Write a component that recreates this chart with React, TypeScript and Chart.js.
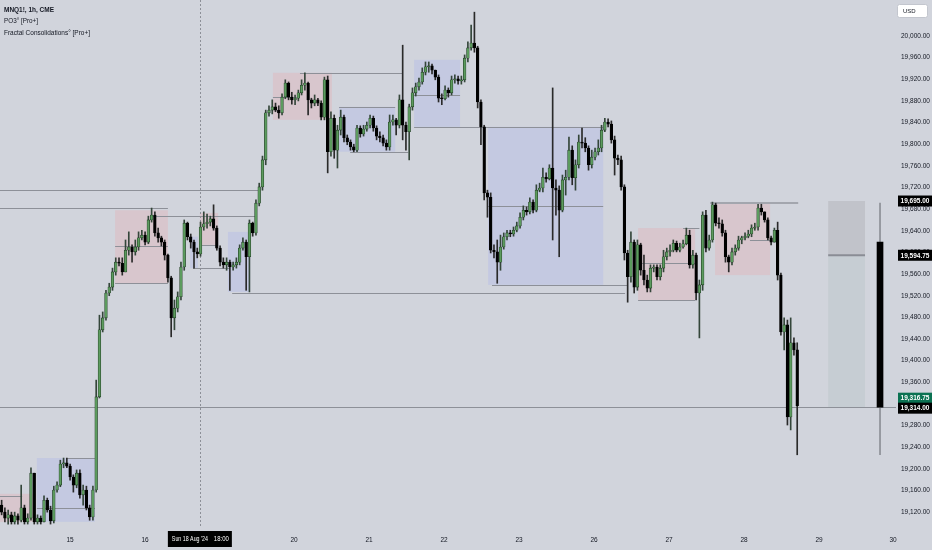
import React, { useEffect, useRef } from 'react';
import { Chart, registerables } from 'chart.js';
Chart.register(...registerables);

// ---------- data ----------
const OPEN0 = 19133;
const closes = [
  19120, 19109, 19115, 19102, 19113, 19105, 19128, 19102, 19109, 19192,
  19102, 19109, 19102, 19142, 19124, 19104, 19161, 19170, 19209, 19211,
  19205, 19185, 19170, 19192, 19152, 19161, 19128, 19111, 19161, 19333,
  19457, 19479, 19525, 19536, 19564, 19582, 19580, 19564, 19604, 19610,
  19601, 19610, 19627, 19632, 19619, 19660, 19669, 19636, 19627, 19619,
  19595, 19553, 19479, 19497, 19518, 19573, 19654, 19629, 19619, 19601,
  19597, 19647, 19653, 19656, 19662, 19645, 19608, 19582, 19577, 19582,
  19573, 19577, 19582, 19608, 19619, 19592, 19654, 19636, 19691, 19721,
  19771, 19858, 19863, 19869, 19863, 19858, 19887, 19913, 19887, 19882,
  19885, 19895, 19909, 19913, 19882, 19876, 19882, 19876, 19850, 19919,
  19786, 19848, 19789, 19826, 19850, 19812, 19804, 19795, 19789, 19830,
  19819, 19828, 19835, 19848, 19830, 19815, 19812, 19802, 19795, 19841,
  19845, 19835, 19882, 19835, 19823, 19869, 19895, 19906, 19915, 19933,
  19943, 19945, 19937, 19924, 19885, 19884, 19900, 19895, 19919, 19921,
  19917, 19919, 19959, 19978, 19987, 19978, 19878, 19832, 19710, 19702,
  19604, 19601, 19582, 19610, 19629, 19636, 19634, 19641, 19649, 19665,
  19678, 19675, 19693, 19678, 19715, 19719, 19739, 19736, 19756, 19719,
  19715, 19678, 19734, 19739, 19789, 19738, 19762, 19804, 19802, 19793,
  19762, 19776, 19786, 19793, 19826, 19841, 19837, 19808, 19774, 19771,
  19721, 19599, 19555, 19619, 19536, 19614, 19567, 19549, 19534, 19571,
  19573, 19555, 19571, 19592, 19601, 19604, 19617, 19604, 19610, 19616,
  19632, 19577, 19595, 19525, 19540, 19669, 19608, 19623, 19688, 19654,
  19653, 19636, 19592, 19582, 19601, 19608, 19623, 19627, 19630, 19634,
  19645, 19647, 19682, 19675, 19660, 19627, 19619, 19641, 19558, 19453,
  19466, 19296, 19433, 19420, 19316.75,
];
const highs = [
  19142, 19128, 19124, 19120, 19120, 19117, 19170, 19133, 19117, 19202,
  19192, 19115, 19113, 19150, 19146, 19131, 19168, 19176, 19216, 19220,
  19220, 19209, 19189, 19198, 19198, 19170, 19168, 19133, 19168, 19364,
  19484, 19490, 19530, 19543, 19571, 19590, 19590, 19590, 19623, 19638,
  19614, 19623, 19638, 19641, 19638, 19667, 19682, 19675, 19645, 19630,
  19623, 19597, 19556, 19512, 19527, 19582, 19660, 19656, 19634, 19623,
  19608, 19656, 19675, 19671, 19667, 19688, 19649, 19612, 19590, 19590,
  19586, 19582, 19590, 19614, 19627, 19623, 19660, 19656, 19697, 19728,
  19778, 19863, 19871, 19882, 19876, 19871, 19893, 19919, 19915, 19896,
  19891, 19900, 19919, 19932, 19915, 19885, 19891, 19885, 19880, 19924,
  19926, 19860, 19854, 19835, 19863, 19854, 19817, 19808, 19800, 19835,
  19834, 19835, 19841, 19854, 19852, 19834, 19823, 19817, 19808, 19854,
  19854, 19848, 19891, 19983, 19841, 19874, 19904, 19913, 19922, 19941,
  19952, 19952, 19948, 19937, 19928, 19893, 19908, 19904, 19926, 19928,
  19926, 19926, 19965, 19989, 20020, 20044, 19981, 19882, 19835, 19715,
  19710, 19614, 19623, 19632, 19636, 19641, 19641, 19647, 19656, 19673,
  19686, 19684, 19701, 19697, 19725, 19728, 19756, 19747, 19762, 19904,
  19734, 19723, 19743, 19752, 19813, 19797, 19771, 19817, 19830, 19812,
  19797, 19789, 19793, 19808, 19835, 19848, 19847, 19843, 19815, 19780,
  19778, 19725, 19604, 19638, 19623, 19623, 19617, 19595, 19558, 19577,
  19577, 19577, 19577, 19604, 19608, 19614, 19623, 19621, 19617, 19623,
  19645, 19641, 19604, 19599, 19549, 19675, 19678, 19632, 19693, 19691,
  19664, 19660, 19641, 19595, 19608, 19614, 19630, 19630, 19636, 19641,
  19651, 19654, 19689, 19689, 19675, 19664, 19630, 19645, 19656, 19562,
  19479, 19475, 19479, 19442, 19433,
];
const lows = [
  19115, 19102, 19098, 19098, 19098, 19098, 19102, 19098, 19098, 19105,
  19098, 19098, 19098, 19102, 19120, 19098, 19100, 19157, 19167, 19202,
  19202, 19179, 19157, 19165, 19146, 19133, 19124, 19105, 19105, 19157,
  19331, 19453, 19475, 19520, 19530, 19558, 19575, 19558, 19564, 19595,
  19582, 19595, 19604, 19623, 19614, 19616, 19656, 19630, 19619, 19612,
  19586, 19545, 19444, 19457, 19490, 19512, 19567, 19623, 19608, 19571,
  19590, 19593, 19641, 19645, 19649, 19641, 19604, 19575, 19571, 19567,
  19530, 19567, 19571, 19577, 19604, 19530, 19527, 19630, 19632, 19686,
  19715, 19762, 19852, 19856, 19860, 19848, 19854, 19884, 19882, 19874,
  19873, 19880, 19891, 19900, 19854, 19867, 19871, 19871, 19845, 19845,
  19747, 19778, 19774, 19756, 19817, 19804, 19799, 19789, 19786, 19786,
  19813, 19815, 19824, 19830, 19824, 19808, 19804, 19797, 19789, 19789,
  19835, 19817, 19830, 19808, 19789, 19771, 19863, 19889, 19900, 19911,
  19928, 19933, 19930, 19919, 19878, 19873, 19882, 19887, 19891, 19913,
  19911, 19911, 19915, 19952, 19974, 19970, 19867, 19799, 19697, 19665,
  19599, 19590, 19543, 19567, 19606, 19623, 19629, 19630, 19638, 19645,
  19660, 19669, 19671, 19673, 19675, 19712, 19712, 19730, 19734, 19623,
  19669, 19592, 19675, 19706, 19734, 19725, 19715, 19756, 19793, 19786,
  19752, 19756, 19771, 19780, 19786, 19823, 19832, 19802, 19743, 19762,
  19715, 19586, 19508, 19545, 19525, 19530, 19558, 19540, 19527, 19527,
  19564, 19549, 19549, 19564, 19586, 19593, 19601, 19601, 19601, 19608,
  19614, 19571, 19571, 19512, 19442, 19530, 19601, 19604, 19619, 19649,
  19645, 19630, 19582, 19564, 19577, 19595, 19604, 19616, 19623, 19627,
  19629, 19641, 19641, 19669, 19656, 19623, 19614, 19619, 19549, 19447,
  19420, 19281, 19272, 19410, 19226,
];

// x axis (candle index positions of the day labels)
const dayTickIdx = [20.97, 43.98, 89.7, 112.7, 135.7, 158.7, 181.7, 204.7, 227.7, 250.7, 273.4];
const dayTickLabels = ['15', '16', '20', '21', '22', '23', '26', '27', '28', '29', '30'];
const priceTicks = [19120, 19160, 19200, 19240, 19280, 19320, 19360, 19400, 19440, 19480, 19520,
  19560, 19600, 19640, 19680, 19720, 19760, 19800, 19840, 19880, 19920, 19960, 20000];

// consolidation zones: [fromIdx, toIdx, top, bottom, kind]
const zones: [number, number, number, number, string][] = [
  [-0.5, 10.5, 19154, 19102, 'p'],
  [10.8, 28.6, 19220, 19102, 'b'],
  [34.8, 51.0, 19678, 19543, 'p'],
  [57.8, 60.2, 19629, 19571, 'b'],
  [60.8, 66.4, 19673, 19614, 'p'],
  [69.4, 76.2, 19638, 19527, 'b'],
  [83.2, 101.3, 19932, 19845, 'p'],
  [103.5, 120.7, 19869, 19786, 'b'],
  [126.5, 140.6, 19956, 19832, 'b'],
  [149.2, 184.5, 19832, 19540, 'b'],
  [195.2, 212.7, 19645, 19512, 'p'],
  [218.8, 235.7, 19691, 19558, 'p'],
];
// levels: [fromIdx, toIdx, price, lineWidth]
const levels: [number, number, number, number][] = [
  [-0.5, 78.6, 19715, 1],
  [-0.5, 51.0, 19682, 1],
  [45.5, 78.3, 19667, 1],
  [-0.5, 6.3, 19150, 1],
  [20.0, 28.6, 19220, 1],
  [10.8, 28.6, 19128, 1],
  [34.8, 51.0, 19612, 1],
  [34.8, 51.0, 19543, 1],
  [60.8, 66.4, 19614, 1],
  [58.7, 70.1, 19571, 1],
  [70.7, 191.2, 19525, 1],
  [83.2, 91.5, 19887, 1],
  [91.5, 122.8, 19932, 1],
  [103.5, 120.7, 19869, 1],
  [106.9, 124.7, 19786, 1],
  [126.5, 140.6, 19891, 1],
  [126.5, 184.5, 19832, 1],
  [149.2, 184.5, 19686, 1],
  [150.4, 191.8, 19540, 1],
  [195.2, 212.7, 19580, 1],
  [195.2, 212.7, 19512, 1],
  [209.0, 214.0, 19645, 1],
  [229.5, 235.7, 19623, 1],
  [217.3, 244.3, 19691, 2],
  [-0.5, 274.3, 19314, 1],
];
// PO3 projection
const po3Idx = 269.4;
const po3From = 253.5;
const po3To = 264.8;
const po3High = 19695;
const po3Mid = 19594.75;
const po3Low = 19314;
const po3Candle = { open: 19619, close: 19314, high: 19691, low: 19226 };
const lastPrice = 19316.75;
const crosshairIdx = 60.8;

// ---------- styles ----------
const BG = '#d1d4dc';
const PINK = '#d8c6cd';
const BLUE = '#c4c9e1';
const UP = '#5c9b5e';
const UP_BORDER = '#1f3a22';
const DOWN = '#000000';
const LINE = '#8d9098';
const TEXT = '#131722';
const FONT = '"Liberation Sans", Arial, sans-serif';

const fmt = (v: number) => v.toLocaleString('en-US', { minimumFractionDigits: 2, maximumFractionDigits: 2 });

const overlay = {
  id: 'overlay',
  beforeDraw(chart: any) {
    const { ctx, width, height } = chart;
    ctx.save();
    ctx.fillStyle = BG;
    ctx.fillRect(0, 0, width, height);
    ctx.restore();
  },
  beforeDatasetsDraw(chart: any) {
    const { ctx, chartArea: a, scales } = chart;
    const x = scales.x, y = scales.y;
    ctx.save();
    ctx.beginPath();
    ctx.rect(a.left, a.top, a.right - a.left, a.bottom - a.top);
    ctx.clip();
    zones.forEach(([f, t, top, bot, k]) => {
      const x0 = x.getPixelForValue(f), x1 = x.getPixelForValue(t);
      const y0 = y.getPixelForValue(top), y1 = y.getPixelForValue(bot);
      ctx.fillStyle = k === 'p' ? PINK : BLUE;
      ctx.fillRect(x0, y0, x1 - x0, y1 - y0);
    });
    // PO3 boxes
    {
      const x0 = x.getPixelForValue(po3From), x1 = x.getPixelForValue(po3To);
      const yH = y.getPixelForValue(po3High), yM = y.getPixelForValue(po3Mid), yL = y.getPixelForValue(po3Low);
      ctx.fillStyle = '#c1c3ca';
      ctx.fillRect(x0, yH, x1 - x0, yM - yH);
      ctx.fillStyle = '#c6cdd3';
      ctx.fillRect(x0, yM, x1 - x0, yL - yM);
      ctx.strokeStyle = '#8a8d95';
      ctx.lineWidth = 2;
      ctx.beginPath();
      ctx.moveTo(x0, yM);
      ctx.lineTo(x1, yM);
      ctx.stroke();
    }
    levels.forEach(([f, t, p, w]) => {
      const x0 = x.getPixelForValue(f), x1 = x.getPixelForValue(t);
      const yy = Math.round(y.getPixelForValue(p)) + (w === 1 ? 0.5 : 0);
      ctx.strokeStyle = w === 2 ? '#a3a6ae' : LINE;
      ctx.lineWidth = w;
      ctx.beginPath();
      ctx.moveTo(x0, yy);
      ctx.lineTo(x1, yy);
      ctx.stroke();
    });
    // crosshair
    const cx = Math.round(x.getPixelForValue(crosshairIdx)) + 0.5;
    ctx.strokeStyle = '#8c8f97';
    ctx.lineWidth = 1;
    ctx.setLineDash([2, 2]);
    ctx.beginPath();
    ctx.moveTo(cx, a.top);
    ctx.lineTo(cx, a.bottom);
    ctx.stroke();
    ctx.restore();
  },
  afterDraw(chart: any) {
    const { ctx, scales } = chart;
    const x = scales.x, y = scales.y;
    ctx.save();
    // legend text
    ctx.fillStyle = TEXT;
    ctx.textBaseline = 'middle';
    ctx.textAlign = 'left';
    ctx.font = `bold 6.5px ${FONT}`;
    ctx.fillText('MNQ1!, 1h, CME', 4, 10, 50);
    ctx.font = `6.5px ${FONT}`;
    ctx.fillText('PO3° [Pro+]', 4, 21, 34);
    ctx.fillText('Fractal Consolidations° [Pro+]', 4, 33, 86);

    // USD box
    ctx.fillStyle = '#ffffff';
    ctx.strokeStyle = '#c3c6ce';
    ctx.lineWidth = 1;
    ctx.beginPath();
    ctx.roundRect(897.5, 4.5, 30, 13, 2);
    ctx.fill();
    ctx.stroke();
    ctx.fillStyle = TEXT;
    ctx.font = `6px ${FONT}`;
    ctx.fillText('USD', 903, 11);

    // price labels on axis
    const tag = (p: number, bg: string, cy?: number) => {
      const yy = cy ?? y.getPixelForValue(p);
      ctx.fillStyle = bg;
      ctx.fillRect(898, yy - 5.5, 34, 11);
      ctx.fillStyle = '#ffffff';
      ctx.font = `bold 6.5px ${FONT}`;
      ctx.textAlign = 'center';
      ctx.fillText(fmt(p), 915, yy + 0.5, 31);
      ctx.textAlign = 'left';
    };
    tag(po3High, '#000000');
    tag(po3Mid, '#000000');
    tag(lastPrice, '#0b7252', y.getPixelForValue(lastPrice) - 7.5);
    tag(po3Low, '#000000', y.getPixelForValue(po3Low) + 1);

    // crosshair time label
    const cx = x.getPixelForValue(crosshairIdx);
    ctx.fillStyle = '#000000';
    ctx.fillRect(cx - 32, 531, 64, 16);
    ctx.fillStyle = '#ffffff';
    ctx.font = `6.5px ${FONT}`;
    ctx.textAlign = 'left';
    ctx.fillText("Sun 18 Aug '24", cx - 28, 539.5, 36);
    ctx.textAlign = 'right';
    ctx.fillText('18:00', cx + 29, 539.5, 15);
    ctx.restore();
  },
};

const App = () => {
  const ref = useRef<HTMLCanvasElement>(null);
  useEffect(() => {
    document.body.style.margin = '0';
    document.body.style.background = BG;
    const canvas = ref.current;
    if (!canvas) return;
    const opens = closes.map((_, i) => (i === 0 ? OPEN0 : closes[i - 1]));
    const up = closes.map((c, i) => c >= opens[i]);
    const bodies = closes.map((c, i) => ({ x: i, y: [opens[i], c] }));
    const wicks = closes.map((_, i) => ({ x: i, y: [lows[i], highs[i]] }));

    const chart = new Chart(canvas, {
      type: 'bar',
      data: {
        datasets: [
          {
            label: 'bodies',
            data: bodies as any,
            backgroundColor: up.map((u) => (u ? UP : DOWN)),
            borderColor: up.map((u) => (u ? UP_BORDER : DOWN)),
            borderWidth: 0.6,
            borderSkipped: false,
            barThickness: 2.7,
            minBarLength: 1,
            grouped: false,
            order: 1,
          },
          {
            label: 'wicks',
            data: wicks as any,
            backgroundColor: up.map((u) => (u ? '#34463a' : '#2a2a2a')),
            borderWidth: 0,
            barThickness: 1,
            grouped: false,
            order: 2,
          },
          {
            label: 'po3Body',
            data: [{ x: po3Idx, y: [po3Candle.open, po3Candle.close] }] as any,
            backgroundColor: '#000000',
            borderWidth: 0,
            barThickness: 6,
            grouped: false,
            order: 1,
          },
          {
            label: 'po3Wick',
            data: [{ x: po3Idx, y: [po3Candle.low, po3Candle.high] }] as any,
            backgroundColor: '#8c8f96',
            borderWidth: 0,
            barThickness: 1,
            grouped: false,
            order: 3,
          },
        ],
      },
      options: {
        responsive: false,
        animation: false,
        devicePixelRatio: 1,
        events: [],
        layout: { padding: 0 },
        plugins: { legend: { display: false }, tooltip: { enabled: false } },
        scales: {
          x: {
            type: 'linear',
            min: -0.5,
            max: 274.3,
            offset: false,
            grid: { display: false, drawTicks: false, tickLength: 0 },
            border: { display: false },
            afterBuildTicks: (s: any) => {
              s.ticks = dayTickIdx.map((v) => ({ value: v }));
            },
            afterFit: (s: any) => {
              s.height = 22;
              s.paddingLeft = 0;
              s.paddingRight = 0;
            },
            ticks: {
              autoSkip: false,
              maxRotation: 0,
              padding: 8,
              color: TEXT,
              font: { size: 6.5, family: FONT },
              callback: (_v: any, i: number) => dayTickLabels[i],
            },
          },
          y: {
            position: 'right',
            min: 19090.7,
            max: 20066.5,
            grid: { display: false, drawTicks: false, tickLength: 0 },
            border: { display: false },
            afterBuildTicks: (s: any) => {
              s.ticks = priceTicks.map((v) => ({ value: v }));
            },
            afterFit: (s: any) => {
              s.width = 36;
              s.paddingTop = 0;
              s.paddingBottom = 0;
            },
            ticks: {
              autoSkip: false,
              padding: 5,
              color: TEXT,
              font: { size: 6.5, family: FONT },
              callback: (v: any) => fmt(Number(v)),
            },
          },
        },
      } as any,
      plugins: [overlay as any],
    });
    return () => chart.destroy();
  }, []);
  return <canvas ref={ref} width={932} height={550} style={{ display: 'block' }} />;
};

export default App;
